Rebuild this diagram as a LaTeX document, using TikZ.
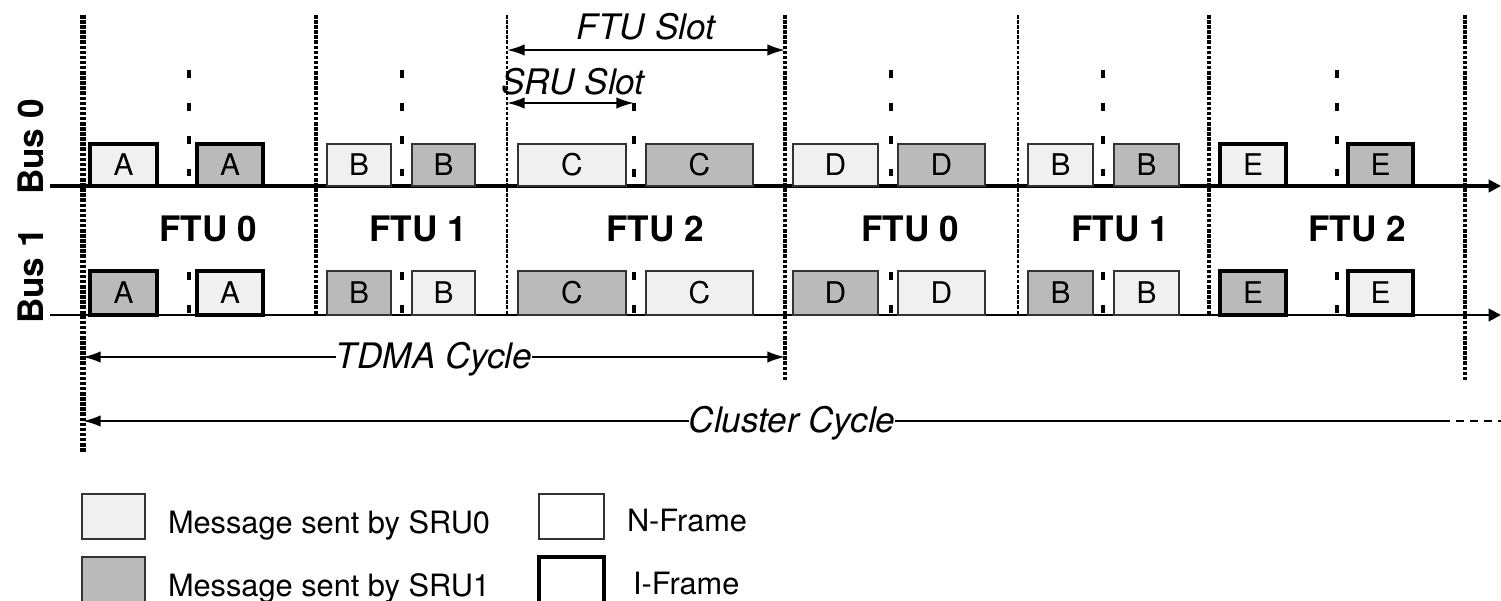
\documentclass[tikz,border=0pt]{standalone}
\usepackage{fontspec}
\setmainfont{TeX Gyre Heros}
\usetikzlibrary{arrows.meta}
\definecolor{ltfill}{gray}{0.94}
\definecolor{dkfill}{gray}{0.73}
\definecolor{nedge}{gray}{0.2}
\begin{document}
\begin{tikzpicture}[x=0.02cm,y=-0.02cm,
  every node/.style={inner sep=0pt, outer sep=0pt},
  ftuline/.style={line width=#1, dash pattern=on 2pt off 0.9pt},
  sruline/.style={line width=1.8pt, dash pattern=on 4.5pt off 14.2pt},
  nframe/.style={draw=nedge, line width=1.2pt},
  iframe/.style={draw=black, line width=2.4pt},
  ltbox/.style={fill=ltfill},
  dkbox/.style={fill=dkfill},
  wbox/.style={fill=white},
  msgw/.style={minimum width={#1*0.02cm}},
  bus0box/.style={anchor=south west, minimum height={42*0.02cm}, font=\fontsize{17}{18}\selectfont},
  bus1box/.style={anchor=south west, minimum height={44*0.02cm}, font=\fontsize{17}{18}\selectfont},
  ftu/.style={font=\fontsize{20}{24}\selectfont\bfseries, anchor=base},
  ital/.style={font=\fontsize{20}{24}\selectfont\itshape, anchor=base},
  dimarrow/.style={line width=1.2pt},
  tipL/.style={{Latex[length=10pt,width=6.5pt]}-},
  tipR/.style={-{Latex[length=10pt,width=6.5pt]}},
  tipLR/.style={{Latex[length=10pt,width=6.5pt]}-{Latex[length=10pt,width=6.5pt]}},
  legtext/.style={font=\fontsize{17.5}{20}\selectfont, anchor=base west},
]
\useasboundingbox (0,0) rectangle (1501,601);
\clip (0,0) rectangle (1501,601);

% FTU boundary lines
\coordinate (v1t) at (83,15);   \coordinate (v1b) at (83,452);
\coordinate (v2t) at (316,15);  \coordinate (v2b) at (316,315);
\coordinate (v3t) at (507,15);  \coordinate (v3b) at (507,315);
\coordinate (v4t) at (785,15);  \coordinate (v4b) at (785,380);
\coordinate (v5t) at (1018,15); \coordinate (v5b) at (1018,315);
\coordinate (v6t) at (1209,15); \coordinate (v6b) at (1209,315);
\coordinate (v7t) at (1465,15); \coordinate (v7b) at (1465,380);
\draw[ftuline=3.2pt] (v1t) -- (v1b);
\draw[ftuline=1.9pt] (v2t) -- (v2b);
\draw[ftuline=1.6pt] (v3t) -- (v3b);
\draw[ftuline=2.8pt] (v4t) -- (v4b);
\draw[ftuline=1.6pt] (v5t) -- (v5b);
\draw[ftuline=2.3pt] (v6t) -- (v6b);
\draw[ftuline=2.3pt] (v7t) -- (v7b);

% SRU dividers
\foreach \xx/\yy in {189/70, 402/70, 634/103, 891/70, 1103/70, 1337/70}{
  \draw[sruline] (\xx,\yy) -- (\xx,186);
  \draw[sruline] (\xx,272) -- (\xx,315);
}

% buses
\coordinate (b0s) at (50,186); \coordinate (b0e) at (1501,186);
\coordinate (b1s) at (50,315); \coordinate (b1e) at (1501,315);
\draw[line width=2.4pt, -{Triangle[length=7pt,width=7pt]}] (b0s) -- (b0e);
\draw[line width=1.6pt, -{Triangle[length=7pt,width=7pt]}] (b1s) -- (b1e);

% Bus 0 messages
\node[iframe, ltbox, bus0box, msgw=67]  (m0a1) at (90,186)   {A};
\node[iframe, dkbox, bus0box, msgw=66]  (m0a2) at (197,186)  {A};
\node[nframe, ltbox, bus0box, msgw=64]  (m0b1) at (327,186)  {B};
\node[nframe, dkbox, bus0box, msgw=63]  (m0b2) at (412,186)  {B};
\node[nframe, ltbox, bus0box, msgw=108] (m0c1) at (518,186)  {C};
\node[nframe, dkbox, bus0box, msgw=107] (m0c2) at (646,186)  {C};
\node[nframe, ltbox, bus0box, msgw=85]  (m0d1) at (793,186)  {D};
\node[nframe, dkbox, bus0box, msgw=87]  (m0d2) at (898,186)  {D};
\node[nframe, ltbox, bus0box, msgw=65]  (m0b3) at (1028,186) {B};
\node[nframe, dkbox, bus0box, msgw=65]  (m0b4) at (1114,186) {B};
\node[iframe, ltbox, bus0box, msgw=66]  (m0e1) at (1220,186) {E};
\node[iframe, dkbox, bus0box, msgw=65]  (m0e2) at (1348,186) {E};

% Bus 1 messages
\node[iframe, dkbox, bus1box, msgw=67]  (m1a1) at (90,315)   {A};
\node[iframe, ltbox, bus1box, msgw=66]  (m1a2) at (197,315)  {A};
\node[nframe, dkbox, bus1box, msgw=64]  (m1b1) at (327,315)  {B};
\node[nframe, ltbox, bus1box, msgw=63]  (m1b2) at (412,315)  {B};
\node[nframe, dkbox, bus1box, msgw=108] (m1c1) at (518,315)  {C};
\node[nframe, ltbox, bus1box, msgw=107] (m1c2) at (646,315)  {C};
\node[nframe, dkbox, bus1box, msgw=85]  (m1d1) at (793,315)  {D};
\node[nframe, ltbox, bus1box, msgw=87]  (m1d2) at (898,315)  {D};
\node[nframe, dkbox, bus1box, msgw=65]  (m1b3) at (1028,315) {B};
\node[nframe, ltbox, bus1box, msgw=65]  (m1b4) at (1114,315) {B};
\node[iframe, dkbox, bus1box, msgw=66]  (m1e1) at (1220,315) {E};
\node[iframe, ltbox, bus1box, msgw=65]  (m1e2) at (1348,315) {E};

% bus labels
\node[ftu, rotate=90] (bus0) at (43,147) {Bus 0};
\node[ftu, rotate=90] (bus1) at (43,276) {Bus 1};

% FTU labels
\node[ftu] (f1) at (208,242)  {FTU 0};
\node[ftu] (f2) at (418,242)  {FTU 1};
\node[ftu] (f3) at (655,242)  {FTU 2};
\node[ftu] (f4) at (910,242)  {FTU 0};
\node[ftu] (f5) at (1120,242) {FTU 1};
\node[ftu] (f6) at (1357,242) {FTU 2};

% slot dimensions
\node[ital] (ftuslot) at (646,40) {FTU Slot};
\coordinate (fs1) at (507,50); \coordinate (fs2) at (785,50);
\draw[dimarrow, tipLR] (fs1) -- (fs2);
\node[ital] (sruslot) at (573,95) {SRU Slot};
\coordinate (ss1) at (507,103); \coordinate (ss2) at (634,103);
\draw[dimarrow, tipLR] (ss1) -- (ss2);

% TDMA cycle
\node[ital] (tdma) at (434,368) {TDMA Cycle};
\coordinate (td1) at (83,357); \coordinate (td2) at (785,357);
\draw[dimarrow, tipL] (td1) -- (tdma.west |- td1);
\draw[dimarrow, tipR] (tdma.east |- td2) -- (td2);

% Cluster cycle
\node[ital] (cluster) at (792,432) {Cluster Cycle};
\coordinate (cc1) at (83,421); \coordinate (cc2) at (1442,421); \coordinate (cc3) at (1501,421);
\draw[dimarrow, tipL] (cc1) -- (cluster.west |- cc1);
\draw[dimarrow] (cluster.east |- cc1) -- (cc2);
\draw[dimarrow, dash pattern=on 4.5pt off 3.4pt] (cc2) -- (cc3);

% legend
\node[draw=nedge, line width=1.4pt, ltbox, anchor=north west, minimum width={63*0.02cm}, minimum height={45*0.02cm}] (leg0) at (82,494) {};
\node[draw=nedge, line width=1.4pt, dkbox, anchor=north west, minimum width={63*0.02cm}, minimum height={48*0.02cm}] (leg1) at (82,557) {};
\node[draw=nedge, line width=1.4pt, wbox, anchor=north west, minimum width={65*0.02cm}, minimum height={45*0.02cm}] (legn) at (539,494) {};
\node[draw=black, line width=2.6pt, wbox, anchor=north west, minimum width={65*0.02cm}, minimum height={48*0.02cm}] (legi) at (539,557) {};
\node[legtext] (leg0t) at (168,533) {Message sent by SRU0};
\node[legtext] (leg1t) at (168,596) {Message sent by SRU1};
\node[legtext] (legnt) at (627,531) {N-Frame};
\node[legtext] (legit) at (633,594) {I-Frame};
\end{tikzpicture}
\end{document}
